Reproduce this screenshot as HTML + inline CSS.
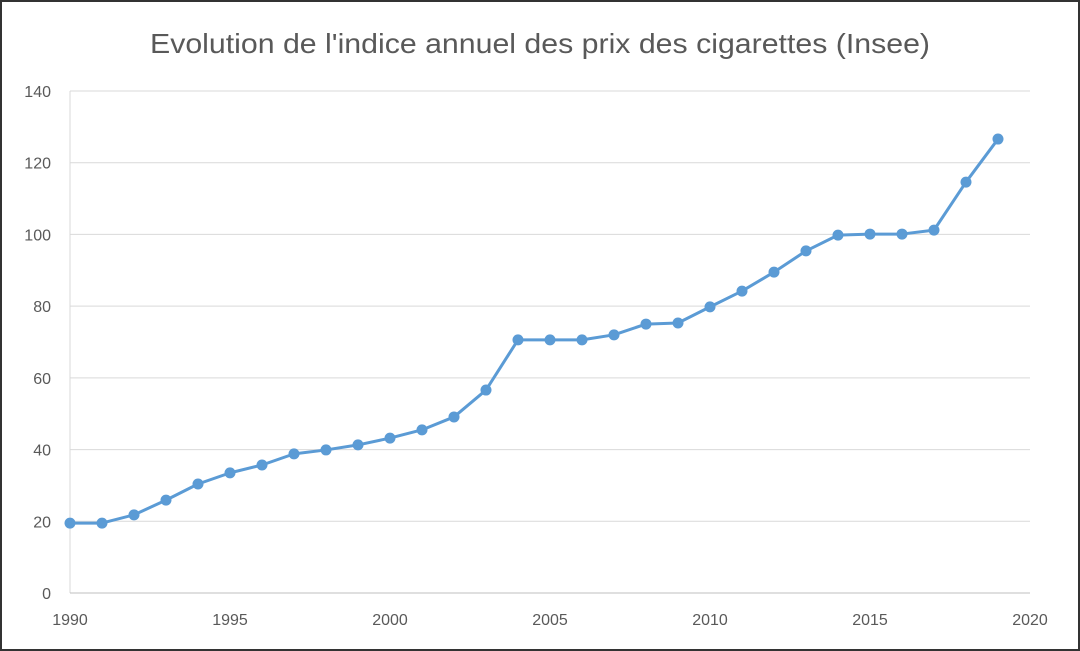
<!DOCTYPE html>
<html><head><meta charset="utf-8"><style>
html,body{margin:0;padding:0;background:#fff;}
svg{display:block;font-family:"Liberation Sans",Arial,sans-serif;}
</style></head><body>
<svg width="1080" height="651" viewBox="0 0 1080 651">
<rect x="1" y="1" width="1078" height="649" fill="#fff" stroke="#333" stroke-width="2"/>
<text x="150" y="53" textLength="780" lengthAdjust="spacingAndGlyphs" font-size="28" fill="#595959">Evolution de l'indice annuel des prix des cigarettes (Insee)</text>
<g id="grid"></g><g id="axes"></g><g id="series"></g>
</svg>
<script>
const years=[1990,1991,1992,1993,1994,1995,1996,1997,1998,1999,2000,2001,2002,2003,2004,2005,2006,2007,2008,2009,2010,2011,2012,2013,2014,2015,2016,2017,2018,2019];
const values=[19.5,19.5,21.8,25.9,30.4,33.5,35.7,38.8,39.9,41.3,43.2,45.5,49.1,56.6,70.6,70.6,70.6,72,75,75.3,79.8,84.2,89.5,95.4,99.8,100.1,100.1,101.2,114.6,126.6];
const yTicks=[0,20,40,60,80,100,120,140];
const xTicks=[1990,1995,2000,2005,2010,2015,2020];
const NS="http://www.w3.org/2000/svg";
const X0=70,X1=1030,Y0=593,Y1=91;
const xs=v=>X0+(v-1990)/(2020-1990)*(X1-X0);
const ys=v=>Y0-v/140*(Y0-Y1);
function mk(t,a,p){const e=document.createElementNS(NS,t);for(const k in a)e.setAttribute(k,a[k]);p.appendChild(e);return e;}
const grid=document.getElementById('grid'),axes=document.getElementById('axes'),ser=document.getElementById('series');
yTicks.forEach(v=>{
 if(v>0){const l=mk('line',{x1:X0,x2:X1,y1:ys(v),y2:ys(v),stroke:'#d9d9d9','stroke-width':1},grid);
 
 }
 const t=mk('text',{x:51,y:ys(v)+6,'text-anchor':'end','font-size':16,fill:'#595959'},axes);t.textContent=v;
 
 
});
const yl=mk('line',{x1:X0,x2:X0,y1:Y1,y2:Y0,stroke:'#d9d9d9'},axes);


const xl=mk('line',{x1:X0,x2:X1,y1:Y0,y2:Y0,stroke:'#bfbfbf'},axes);


xTicks.forEach(v=>{const t=mk('text',{x:xs(v),y:Y0+32,'text-anchor':'middle','font-size':16,fill:'#595959'},axes);t.textContent=v;
 
 });
const pts=years.map((y,i)=>xs(y)+','+ys(values[i])).join(' ');
const pl=mk('polyline',{points:pts,fill:'none',stroke:'#5b9bd5','stroke-width':3,'stroke-linejoin':'round'},ser);


years.forEach((y,i)=>{const c=mk('circle',{cx:xs(y),cy:ys(values[i]),r:5.5,fill:'#5b9bd5'},ser);
 
 });
</script>
</body></html>
